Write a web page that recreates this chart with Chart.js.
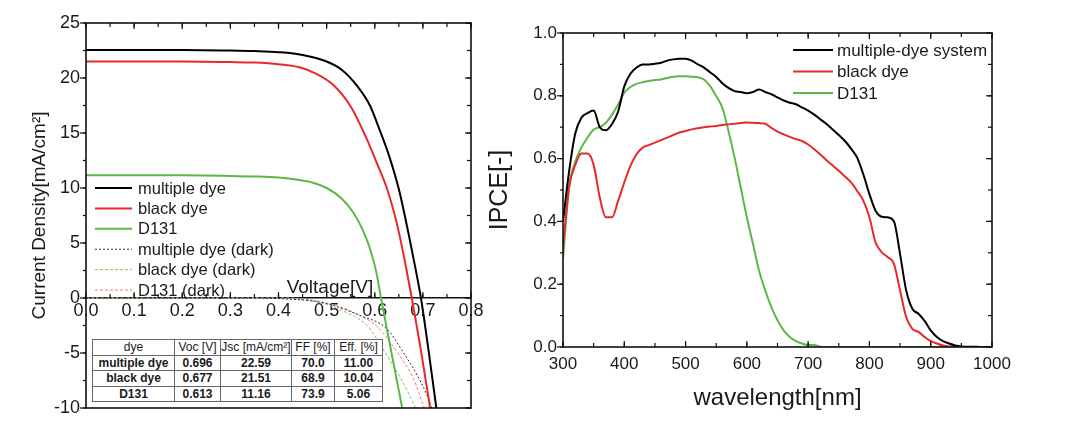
<!DOCTYPE html>
<html>
<head>
<meta charset="utf-8">
<script src="https://cdn.jsdelivr.net/npm/chart.js@4.4.0/dist/chart.umd.min.js"></script>
<style>
  body { margin: 0; background: #fff; width: 1084px; height: 428px; position: relative; overflow: hidden;
         font-family: 'Liberation Sans', Arial, sans-serif; }
  #jv { position: absolute; left: 0; top: 0; }
  #ipce { position: absolute; left: 488px; top: 0; }
  #jvTable { position: absolute; left: 92px; top: 339px; border-collapse: collapse; background: #fff;
             border: 1.5px solid #333; color: #1a1a1a; }
  #jvTable td { border: 1px solid #666; text-align: center; padding: 0; height: 14.5px; line-height: 14.5px;
                font-size: 12px; font-weight: bold; white-space: nowrap; }
  #jvTable tr:first-child td { font-weight: normal; font-size: 12px; }
</style>
</head>
<body>
<canvas id="jv" width="488" height="428"></canvas>
<canvas id="ipce" width="596" height="428"></canvas>
<table id="jvTable"></table>
<script>
// J-V under light: voltage [V] and current density [mA/cm2]
const vMulti = [0, 0.1, 0.2, 0.3, 0.35, 0.4, 0.45, 0.5, 0.53, 0.565, 0.59, 0.61, 0.63, 0.65, 0.67, 0.685, 0.696, 0.71, 0.728];
const jMulti = [22.55, 22.55, 22.55, 22.5, 22.45, 22.35, 22.1, 21.5, 20.8, 19.2, 17.5, 15.3, 12.9, 9.9, 5.9, 2.6, 0, -4.2, -10];
const vBlack = [0, 0.2, 0.3, 0.35, 0.4, 0.445, 0.48, 0.513, 0.55, 0.584, 0.605, 0.625, 0.64, 0.652, 0.665, 0.677, 0.695, 0.715];
const jBlack = [21.5, 21.5, 21.45, 21.4, 21.25, 20.95, 20.35, 19.4, 17.4, 14.4, 12.2, 10.0, 7.8, 5.6, 2.8, 0, -4.5, -10];
const vD131 = [0, 0.2, 0.3, 0.35, 0.4, 0.44, 0.47, 0.5, 0.53, 0.555, 0.575, 0.59, 0.603, 0.613, 0.63, 0.657];
const jD131 = [11.15, 11.15, 11.1, 11.05, 10.95, 10.75, 10.5, 10.0, 9.1, 7.8, 6.2, 4.5, 2.4, 0, -3.9, -10];

// J-V in the dark
const vMultiDark = [0, 0.35, 0.42, 0.49, 0.57, 0.625, 0.66, 0.688, 0.71, 0.718];
const jMultiDark = [0, 0, -0.1, -0.4, -1.6, -2.8, -5.0, -7.0, -9.0, -10];
const vBlackDark = [0, 0.35, 0.4, 0.45, 0.5, 0.54, 0.57, 0.59, 0.625, 0.659, 0.685];
const jBlackDark = [0, 0, 0, -0.15, -0.6, -1.3, -2.0, -2.8, -5.2, -7.7, -10];
const vD131Dark = [0, 0.35, 0.42, 0.47, 0.52, 0.56, 0.605, 0.646, 0.68, 0.703];
const jD131Dark = [0, 0, 0, -0.2, -0.7, -1.4, -2.6, -4.9, -7.3, -10];

// photovoltaic parameters table
const tableHead = ['dye', 'Voc [V]', 'Jsc [mA/cm²]', 'FF [%]', 'Eff. [%]'];
const dyeNames = ['multiple dye', 'black dye', 'D131'];
const vocValues = ['0.696', '0.677', '0.613'];
const jscValues = ['22.59', '21.51', '11.16'];
const ffValues = ['70.0', '68.9', '73.9'];
const effValues = ['11.00', '10.04', '5.06'];

// IPCE spectra
const wavelength = [300, 310, 320, 330, 340, 350, 360, 370, 380, 390, 400, 410, 420, 430, 440, 450, 460, 470, 480, 490,
  500, 510, 520, 530, 540, 550, 560, 570, 580, 590, 600, 610, 620, 630, 640, 650, 660, 670, 680, 690,
  700, 710, 720, 730, 740, 750, 760, 770, 780, 790, 800, 810, 820, 830, 840, 850, 860, 870, 880, 890,
  900, 910, 920, 930, 940, 950, 960, 970, 980, 990, 1000];
const ipceMulti = [0.40, 0.56, 0.68, 0.73, 0.745, 0.753, 0.70, 0.69, 0.71, 0.75, 0.83, 0.87, 0.89, 0.90, 0.90, 0.902, 0.905, 0.912, 0.916, 0.918,
  0.918, 0.912, 0.90, 0.89, 0.875, 0.86, 0.84, 0.825, 0.815, 0.812, 0.808, 0.812, 0.82, 0.812, 0.805, 0.795, 0.785, 0.778, 0.773, 0.763,
  0.753, 0.74, 0.725, 0.71, 0.693, 0.675, 0.656, 0.632, 0.603, 0.55, 0.487, 0.434, 0.415, 0.413, 0.40, 0.296, 0.18, 0.122, 0.106, 0.083,
  0.053, 0.032, 0.019, 0.011, 0.005, 0.002, 0.001, 0.001, 0, 0, 0];
const ipceBlack = [0.32, 0.51, 0.58, 0.616, 0.616, 0.58, 0.476, 0.413, 0.413, 0.466, 0.524, 0.577, 0.614, 0.635, 0.643, 0.651, 0.659, 0.667, 0.675, 0.683,
  0.688, 0.693, 0.697, 0.70, 0.702, 0.704, 0.707, 0.709, 0.711, 0.713, 0.715, 0.714, 0.713, 0.711, 0.698, 0.686, 0.677, 0.669, 0.662, 0.656,
  0.645, 0.63, 0.613, 0.595, 0.578, 0.561, 0.543, 0.524, 0.497, 0.466, 0.413, 0.333, 0.302, 0.286, 0.265, 0.18, 0.095, 0.058, 0.048, 0.032,
  0.019, 0.011, 0.005, 0.002, 0.001, 0, 0, 0, 0, 0, 0];
const ipceD131 = [0.28, 0.51, 0.59, 0.635, 0.667, 0.693, 0.70, 0.714, 0.74, 0.772, 0.81, 0.828, 0.838, 0.843, 0.847, 0.85, 0.852, 0.857, 0.861, 0.862,
  0.862, 0.861, 0.859, 0.852, 0.831, 0.799, 0.762, 0.688, 0.603, 0.508, 0.413, 0.328, 0.243, 0.18, 0.127, 0.085, 0.053, 0.032, 0.019, 0.011,
  0.006, 0.006, 0.001, 0, 0, 0, 0, 0, 0, 0, 0, 0, 0, 0, 0, 0, 0, 0, 0, 0,
  0, 0, 0, 0, 0, 0, 0, 0, 0, 0, 0];

const FONT = "'Liberation Sans', Arial, sans-serif";
const RED = '#e8282b';
const GREEN = '#5cb846';
Chart.defaults.font.family = FONT;
Chart.defaults.color = '#1a1a1a';

// table
const colWidths = [81, 45, 70, 42, 47];
const rows = [tableHead].concat(dyeNames.map((d, i) => [d, vocValues[i], jscValues[i], ffValues[i], effValues[i]]));
document.getElementById('jvTable').innerHTML = rows.map(r =>
  '<tr>' + r.map((c, i) => `<td style="width:${colWidths[i]}px">${c}</td>`).join('') + '</tr>').join('');

const pts = (xs, ys) => xs.map((x, i) => ({ x, y: ys[i] }));

function line(label, xs, ys, color, width, dash) {
  return {
    label, data: pts(xs, ys), borderColor: color, borderWidth: width, borderDash: dash || [],
    pointRadius: 0, cubicInterpolationMode: 'monotone', fill: false
  };
}

// box round the plot and the small tick marks (left ones point out, the rest point in)
const framePlugin = {
  id: 'frame',
  afterDraw(chart, args, o) {
    const { ctx, chartArea: a, scales: { x, y } } = chart;
    ctx.save();
    ctx.strokeStyle = '#111';
    ctx.lineWidth = 1.6;
    ctx.strokeRect(a.left, a.top, a.right - a.left, a.bottom - a.top);
    ctx.lineWidth = 1.2;
    (o.marks || []).forEach(m => {
      const s = (m.side === 'left' || m.side === 'right') ? y : x;
      const n = Math.round((s.max - s.min) / m.step);
      for (let i = 0; i <= n; i++) {
        const p = s.getPixelForValue(s.min + i * m.step);
        ctx.beginPath();
        if (m.side === 'left') { ctx.moveTo(a.left, p); ctx.lineTo(a.left - m.len, p); }
        else if (m.side === 'right') { ctx.moveTo(a.right, p); ctx.lineTo(a.right - m.len, p); }
        else if (m.side === 'top') { ctx.moveTo(p, a.top); ctx.lineTo(p, a.top + m.len); }
        else if (m.side === 'bottom') { ctx.moveTo(p, a.bottom); ctx.lineTo(p, a.bottom - m.len); }
        else { const b = y.getPixelForValue(0); ctx.moveTo(p, b); ctx.lineTo(p, b - m.len); }
        ctx.stroke();
      }
    });
    ctx.restore();
  }
};

// legend drawn inside the plot area
const legendPlugin = {
  id: 'inLegend',
  afterDraw(chart, args, o) {
    const { ctx, chartArea: a } = chart;
    ctx.save();
    ctx.font = o.font + 'px ' + FONT;
    ctx.textBaseline = 'middle';
    ctx.fillStyle = '#1a1a1a';
    chart.data.datasets.forEach((d, i) => {
      const x = a.left + o.x;
      const y = a.top + o.y + i * o.row;
      ctx.strokeStyle = d.borderColor;
      ctx.lineWidth = o.width || d.borderWidth;
      ctx.setLineDash(d.borderDash);
      ctx.beginPath(); ctx.moveTo(x, y); ctx.lineTo(x + o.len, y); ctx.stroke();
      ctx.setLineDash([]);
      ctx.fillText(d.label, x + o.len + o.gap, y + 1);
    });
    ctx.restore();
  }
};

// free text placed at data coordinates (axis name above the zero line)
const notePlugin = {
  id: 'note',
  afterDraw(chart, args, o) {
    if (!o.text) return;
    const { ctx, scales } = chart;
    ctx.save();
    ctx.font = o.font + 'px ' + FONT;
    ctx.fillStyle = '#1a1a1a';
    ctx.textAlign = 'center';
    ctx.textBaseline = 'alphabetic';
    ctx.fillText(o.text, scales.x.getPixelForValue(o.x), scales.y.getPixelForValue(o.y) - o.lift);
    ctx.restore();
  }
};

new Chart(document.getElementById('jv'), {
  type: 'line',
  data: {
    datasets: [
      line('multiple dye', vMulti, jMulti, '#000', 2),
      line('black dye', vBlack, jBlack, RED, 2),
      line('D131', vD131, jD131, GREEN, 2),
      line('multiple dye (dark)', vMultiDark, jMultiDark, '#2b2b45', 1, [2, 2]),
      line('black dye (dark)', vBlackDark, jBlackDark, '#7fc46b', 1, [3, 2]),
      line('D131 (dark)', vD131Dark, jD131Dark, '#ef7f6e', 1, [3, 2])
    ]
  },
  options: {
    responsive: false,
    animation: false,
    layout: { padding: { left: 0, top: 23, right: 17, bottom: 20 } },
    scales: {
      x: {
        type: 'linear', min: 0, max: 0.8, position: { y: 0 },
        grid: { display: false, drawTicks: false },
        border: { display: true, color: '#111', width: 1.6 },
        ticks: { stepSize: 0.1, padding: 2, font: { size: 18 }, maxRotation: 0, autoSkip: false,
                 callback: v => v.toFixed(1) }
      },
      y: {
        min: -10, max: 25,
        grid: { display: false, drawTicks: false },
        border: { display: false },
        ticks: { stepSize: 5, padding: 6, font: { size: 18 } },
        title: { display: true, text: 'Current Density[mA/cm²]', font: { size: 19, lineHeight: 1 },
                 padding: { top: 30, bottom: 30 } },
        afterFit: s => { s.width = 86; }
      }
    },
    plugins: {
      legend: { display: false },
      tooltip: { enabled: false },
      frame: { marks: [
        { side: 'left', step: 5, len: 6 }, { side: 'left', step: 2.5, len: 3 },
        { side: 'right', step: 5, len: 6 }, { side: 'right', step: 2.5, len: 4 },
        { side: 'top', step: 0.1, len: 6 }, { side: 'top', step: 0.05, len: 4 },
        { side: 'zero', step: 0.1, len: 6 }, { side: 'zero', step: 0.05, len: 4 }
      ] },
      inLegend: { x: 9, y: 165, row: 20.4, len: 37, gap: 6, font: 16.5 },
      note: { text: 'Voltage[V]', x: 0.507, y: 0, lift: 5, font: 19 }
    }
  },
  plugins: [framePlugin, legendPlugin, notePlugin]
});

new Chart(document.getElementById('ipce'), {
  type: 'line',
  data: {
    datasets: [
      line('multiple-dye system', wavelength, ipceMulti, '#000', 2),
      line('black dye', wavelength, ipceBlack, RED, 2),
      line('D131', wavelength, ipceD131, GREEN, 2)
    ]
  },
  options: {
    responsive: false,
    animation: false,
    layout: { padding: { left: 0, top: 33, right: 92, bottom: 0 } },
    scales: {
      x: {
        type: 'linear', min: 300, max: 1000,
        grid: { display: false, drawTicks: false },
        border: { display: false },
        ticks: { stepSize: 100, padding: 7, font: { size: 17 }, maxRotation: 0, autoSkip: false,
                 callback: v => String(v) },
        title: { display: true, text: 'wavelength[nm]', font: { size: 24, lineHeight: 1 },
                 padding: { top: 18, bottom: 18 } },
        afterFit: s => { s.height = 81; }
      },
      y: {
        min: 0, max: 1,
        grid: { display: false, drawTicks: false },
        border: { display: false },
        ticks: { stepSize: 0.2, padding: 6, font: { size: 17 }, callback: v => v.toFixed(1) },
        title: { display: true, text: 'IPCE[-]', font: { size: 25, lineHeight: 1 }, padding: { top: 0, bottom: 0 } },
        afterFit: s => { s.width = 75; }
      }
    },
    plugins: {
      legend: { display: false },
      tooltip: { enabled: false },
      frame: { marks: [
        { side: 'left', step: 0.2, len: 6 }, { side: 'left', step: 0.1, len: 3 },
        { side: 'right', step: 0.2, len: 6 }, { side: 'right', step: 0.1, len: 4 },
        { side: 'top', step: 100, len: 6 }, { side: 'top', step: 50, len: 4 },
        { side: 'bottom', step: 100, len: 6 }, { side: 'bottom', step: 50, len: 4 }
      ] },
      inLegend: { x: 230, y: 17, row: 21.5, len: 40, gap: 4, font: 17 },
      note: {}
    }
  },
  plugins: [framePlugin, legendPlugin, notePlugin]
});
</script>
</body>
</html>
